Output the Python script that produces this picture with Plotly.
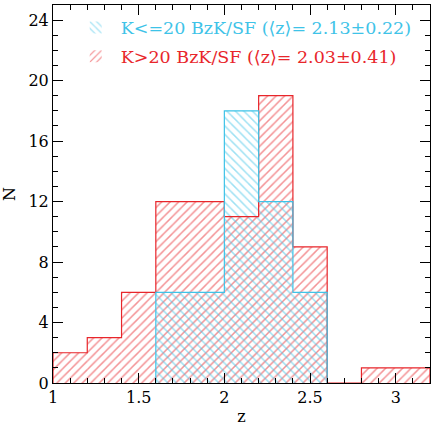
import plotly.graph_objects as go
import numpy as np

bin_edges = [1.0, 1.2, 1.4, 1.6, 1.8, 2.0, 2.2, 2.4, 2.6, 2.8, 3.0, 3.2]
red_counts = [2, 3, 6, 12, 12, 11, 19, 9, 0, 1, 1]
cyan_counts = [0, 0, 0, 6, 6, 18, 12, 6, 0, 0, 0]
red_name = "K&gt;20 BzK/SF (⟨z⟩= 2.03±0.41)"
cyan_name = "K&lt;=20 BzK/SF (⟨z⟩= 2.13±0.22)"

RED = "#e8262b"
CYAN = "#3ec3e8"

edges = np.array(bin_edges)
centers = (edges[:-1] + edges[1:]) / 2
widths = np.diff(edges)


def step(counts, lo, hi):
    xs, ys = [edges[lo]], [0]
    for i in range(lo, hi):
        xs += [edges[i], edges[i + 1]]
        ys += [counts[i], counts[i]]
    xs.append(edges[hi]); ys.append(0)
    return xs, ys


fig = go.Figure()
fig.add_bar(x=centers, y=red_counts, width=widths, name=f"<span style='color:{RED}'>{red_name}</span>",
            legendgroup="b",
            marker=dict(color="rgba(0,0,0,0)", line=dict(width=0, color=RED),
                        pattern=dict(shape="/", fgcolor=RED, bgcolor="rgba(0,0,0,0)", size=6, solidity=0.25)),
            legendrank=2)
fig.add_bar(x=centers, y=cyan_counts, width=widths, name=f"<span style='color:{CYAN}'>{cyan_name}</span>",
            legendgroup="a",
            marker=dict(color="rgba(0,0,0,0)", line=dict(width=0, color=CYAN),
                        pattern=dict(shape="\\", fgcolor=CYAN, bgcolor="rgba(0,0,0,0)", size=6, solidity=0.25)),
            legendrank=1)
sx, sy = step(red_counts, 0, len(red_counts))
fig.add_scatter(x=sx, y=sy, mode="lines", line=dict(color=RED, width=1.2), showlegend=False, hoverinfo="skip")
cx, cy = step(cyan_counts, 3, 8)
fig.add_scatter(x=cx, y=cy, mode="lines", line=dict(color=CYAN, width=1.2), showlegend=False, hoverinfo="skip")

FONT = "DejaVu Serif"
fig.update_layout(
    width=431, height=426,
    margin=dict(l=53, r=1, t=5, b=43),
    paper_bgcolor="white", plot_bgcolor="rgba(0,0,0,0)",
    barmode="overlay",
    showlegend=True,
    legend=dict(x=0.047, y=0.988, xanchor="left", yanchor="top", bgcolor="rgba(0,0,0,0)",
                font=dict(family=FONT, size=17.5), traceorder="grouped", tracegroupgap=3, itemwidth=40),
)
common = dict(showline=True, linecolor="black", linewidth=1, mirror="ticks",
              ticks="inside", ticklen=10, tickcolor="#000000", tickwidth=1, layer="above traces",
              showgrid=False, zeroline=False, tickfont=dict(family=FONT, size=16, color="black"))
fig.update_xaxes(range=[1, 3.2], tickmode="linear", tick0=1, dtick=0.5,
                 minor=dict(tickmode="linear", tick0=1, dtick=0.1, ticks="inside", ticklen=5,
                            tickcolor="#000000", tickwidth=1),
                 title=dict(text="z", font=dict(family=FONT, size=16, color="black"), standoff=4), **common)
fig.update_yaxes(range=[0, 25], tickmode="linear", tick0=0, dtick=4,
                 minor=dict(tickmode="linear", tick0=0, dtick=1, ticks="inside", ticklen=5,
                            tickcolor="#000000", tickwidth=1),
                 title=dict(text="N", font=dict(family=FONT, size=16, color="black"), standoff=8), **common)
fig.write_html("out.html")
